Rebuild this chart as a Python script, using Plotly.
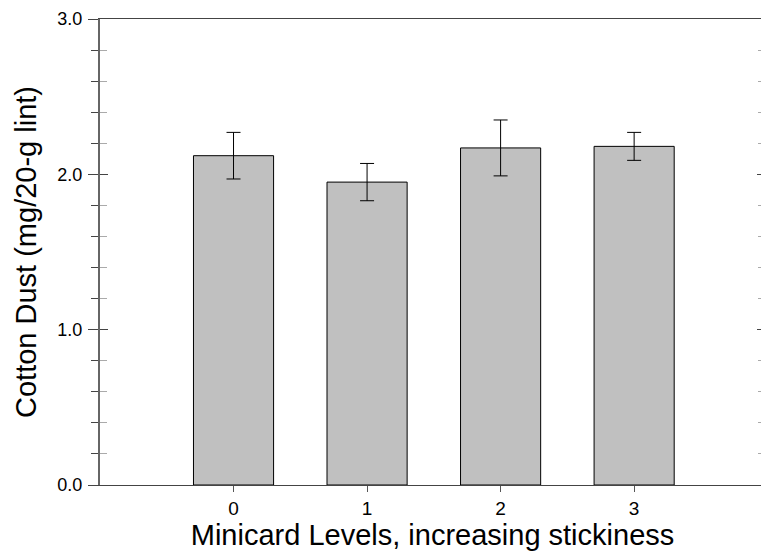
import plotly.graph_objects as go

categories = ["0", "1", "2", "3"]
cat_pos = [0, 1, 2, 3]
dust_mean = [2.12, 1.95, 2.17, 2.18]
dust_err = [0.15, 0.12, 0.18, 0.09]

FONT = "Liberation Sans, Arial, Helvetica, sans-serif"

fig = go.Figure()
fig.add_trace(go.Bar(
    x=cat_pos, y=dust_mean, width=0.6,
    marker=dict(color="#c0c0c0", line=dict(color="#000000", width=1)),
    error_y=dict(type="data", array=dust_err, visible=True, color="#000000", thickness=1, width=7),
    showlegend=False,
))
# invisible trace to activate overlay axis (for crossing ticks)
fig.add_trace(go.Scatter(x=[cat_pos[0]], y=[dust_mean[0]], yaxis="y2", mode="markers",
                         marker=dict(opacity=0), showlegend=False, hoverinfo="skip"))

fig.update_layout(
    width=765, height=551,
    margin=dict(l=100, r=0, t=19, b=66),
    paper_bgcolor="white", plot_bgcolor="white",
    font=dict(family=FONT, color="#000000"),
    xaxis=dict(
        range=[-1, 3.98], tickmode="array", tickvals=cat_pos, ticktext=categories,
        ticks="outside", ticklen=6, tickcolor="#555555", tickwidth=1,
        showline=True, linecolor="#444444", linewidth=1, mirror=True,
        showgrid=False, zeroline=False,
        tickfont=dict(size=19, family=FONT),
        title=dict(text="Minicard Levels, increasing stickiness", font=dict(size=29, family=FONT), standoff=0),
    ),
    yaxis=dict(
        range=[0, 3.0], tickmode="array", tickvals=[0, 1, 2, 3], ticktext=["0.0", "1.0", "2.0", "3.0"],
        ticks="outside", ticklen=10, tickcolor="#444444", tickwidth=1,
        minor=dict(tickmode="linear", dtick=0.2, tick0=0, ticks="outside", ticklen=7, tickcolor="#444444", showgrid=False),
        showline=True, linecolor="#666666", linewidth=2,
        showgrid=False, zeroline=False, ticklabelstandoff=2,
        tickfont=dict(size=18, family=FONT),
        title=dict(text="Cotton Dust (mg/20-g lint)", font=dict(size=29, family=FONT), standoff=12),
    ),
    yaxis2=dict(
        overlaying="y", matches="y", side="left", anchor="x",
        tickmode="array", tickvals=[0, 1, 2, 3],
        ticks="inside", ticklen=8, tickcolor="#444444", tickwidth=1, mirror="ticks",
        minor=dict(tickmode="linear", dtick=0.2, tick0=0, ticks="inside", ticklen=7, tickcolor="#aaaaaa", showgrid=False),
        showticklabels=False, showline=False, showgrid=False, zeroline=False,
    ),
)

fig.write_html(
    "out.html",
    config={"displayModeBar": False},
    post_script="document.body.style.margin='0';document.body.style.overflow='hidden';",
)
